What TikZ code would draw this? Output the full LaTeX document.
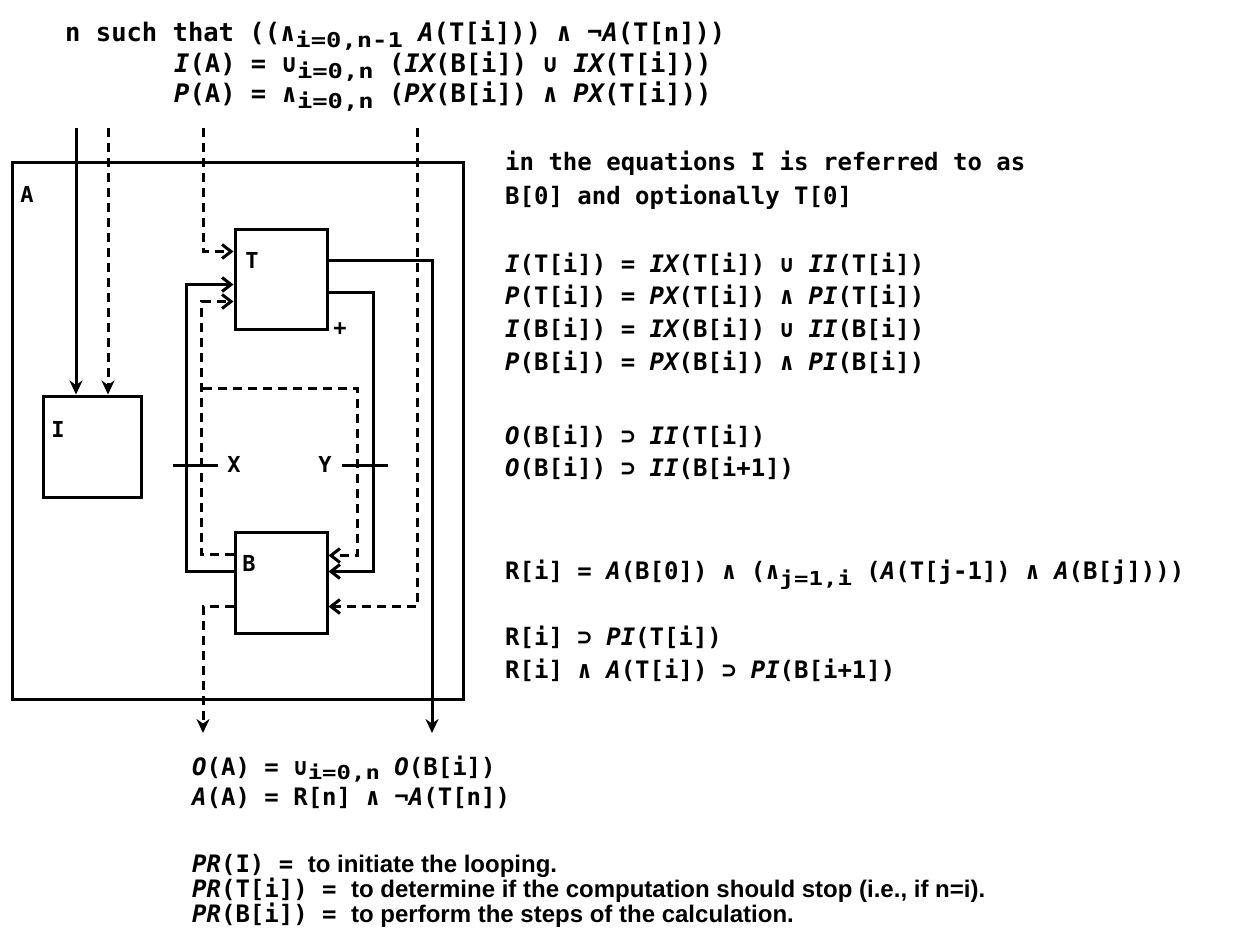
\documentclass[tikz,border=0pt]{standalone}
\usepackage{fontspec}
\usepackage{graphicx}
\newfontfamily\mono{DejaVu Sans Mono}
\newfontfamily\prop{Liberation Sans}
\usetikzlibrary{arrows.meta}
\newcommand{\fn}[1]{{\itshape #1}}
\newcommand{\sbs}[1]{\raisebox{-6pt}[0pt][0pt]{\scalebox{1}[0.8]{#1}}}
\newcommand{\sbsl}[1]{\raisebox{-4.5pt}[0pt][0pt]{\scalebox{1}[0.8]{#1}}}
\begin{document}
\begin{tikzpicture}[x=1pt,y=-1pt,
  txt/.style={anchor=base west, inner sep=0pt, font=\mono\bfseries\fontsize{24pt}{24pt}\selectfont},
  txttop/.style={anchor=base west, inner sep=0pt, font=\mono\bfseries\fontsize{25.5pt}{25.5pt}\selectfont},
  lbl/.style={inner sep=0pt, font=\mono\bfseries\fontsize{22pt}{22pt}\selectfont},
  wire/.style={line width=3pt},
  dsh/.style={line width=3pt, dash pattern=on 9pt off 6pt},
  box/.style={draw, line width=3pt, inner sep=0pt},
  openhead/.style={-{Straight Barb[length=9pt,width=14pt,line width=3pt]}},
  fillhead/.style={-{Stealth[length=14pt,width=13pt]}},
]
\fill[white] (0,0) rectangle (1248,945);
\useasboundingbox (0,0) rectangle (1248,945);

% boxes
\node[box, minimum width=451pt, minimum height=537pt] (Abox) at (237.5,430.5) {};
\node[box, minimum width=98pt, minimum height=101pt] (I) at (92,446.5) {};
\node[box, minimum width=92pt, minimum height=100pt] (T) at (281,279) {};
\node[box, minimum width=92pt, minimum height=101pt] (B) at (281,582.5) {};

% labels
\node[lbl] (lA) at (27,194) {A};
\node[lbl] (lI) at (58,429) {I};
\node[lbl] (lT) at (252,260) {T};
\node[lbl] (lB) at (249,563) {B};
\node[lbl] (lX) at (234,464) {X};
\node[lbl] (lY) at (325,464) {Y};
\node[lbl] (lp) at (340,329) {+};

% free ends
\coordinate (s1) at (76,128);
\coordinate (s2) at (108,128);
\coordinate (s3) at (203,128);
\coordinate (s4) at (417,128);
\coordinate (e1) at (203,733);
\coordinate (e2) at (432,733);
\coordinate (jn) at (203,388);

% connectors
\draw[wire, fillhead] (s1) -- (s1 |- I.north);
\draw[dsh, fillhead] (s2) -- (s2 |- I.north);
\draw[dsh, openhead] (s3) |- ([yshift=-24pt]T.north west);
\draw[wire, openhead] ([yshift=-41pt]B.north west) -- ++(-47,0) |- ([yshift=-57pt]T.north west);
\draw[dsh, openhead] ([yshift=-24pt]B.north west) -- ++(-32,0) |- ([yshift=-74pt]T.north west);
\draw[wire, openhead] ([yshift=-65pt]T.north east) -- ++(45,0) |- ([yshift=-41pt]B.north east);
\draw[dsh, openhead] (jn) -- ++(154,0) |- ([yshift=-25pt]B.north east);
\draw[dsh, openhead] (s4) |- ([yshift=-76pt]B.north east);
\draw[wire, fillhead] ([yshift=-33pt]T.north east) -| (e2);
\draw[dsh, fillhead] ([yshift=-76pt]B.north west) -| (e1);

% tick marks
\draw[wire] (173,465) -- (218,465);
\draw[wire] (342,465) -- (388,465);

% top equations
\node[txttop] (t1) at (65,41) {n such that ((∧\sbs{i=0,n-1} \fn{A}(T[i])) ∧ ¬\fn{A}(T[n]))};
\node[txttop] (t2) at (174,72) {\fn{I}(A) = ∪\sbs{i=0,n} (\fn{IX}(B[i]) ∪ \fn{IX}(T[i]))};
\node[txttop] (t3) at (174,102) {\fn{P}(A) = ∧\sbs{i=0,n} (\fn{PX}(B[i]) ∧ \fn{PX}(T[i]))};

% right equations
\node[txt] (r1) at (505,170) {in the equations I is referred to as};
\node[txt] (r2) at (505,204) {B[0] and optionally T[0]};
\node[txt] (r3) at (505,272) {\fn{I}(T[i]) = \fn{IX}(T[i]) ∪ \fn{II}(T[i])};
\node[txt] (r4) at (505,304) {\fn{P}(T[i]) = \fn{PX}(T[i]) ∧ \fn{PI}(T[i])};
\node[txt] (r5) at (505,337) {\fn{I}(B[i]) = \fn{IX}(B[i]) ∪ \fn{II}(B[i])};
\node[txt] (r6) at (505,370) {\fn{P}(B[i]) = \fn{PX}(B[i]) ∧ \fn{PI}(B[i])};
\node[txt] (r7) at (505,444) {\fn{O}(B[i]) ⊃ \fn{II}(T[i])};
\node[txt] (r8) at (505,476) {\fn{O}(B[i]) ⊃ \fn{II}(B[i+1])};
\node[txt] (r9) at (505,579) {R[i] = \fn{A}(B[0]) ∧ (∧\sbs{j=1,i} (\fn{A}(T[j-1]) ∧ \fn{A}(B[j])))};
\node[txt] (r10) at (505,645) {R[i] ⊃ \fn{PI}(T[i])};
\node[txt] (r11) at (505,678) {R[i] ∧ \fn{A}(T[i]) ⊃ \fn{PI}(B[i+1])};

% bottom equations
\node[txt] (b1) at (192,775) {\fn{O}(A) = ∪\sbsl{i=0,n} \fn{O}(B[i])};
\node[txt] (b2) at (192,805) {\fn{A}(A) = R[n] ∧ ¬\fn{A}(T[n])};
\node[txt] (b3) at (192,872) {\fn{PR}(I) = {\prop to initiate the looping.}};
\node[txt] (b4) at (192,897) {\fn{PR}(T[i]) = {\prop to determine if the computation should stop (i.e., if n=i).}};
\node[txt] (b5) at (192,922) {\fn{PR}(B[i]) = {\prop to perform the steps of the calculation.}};
\end{tikzpicture}
\end{document}
